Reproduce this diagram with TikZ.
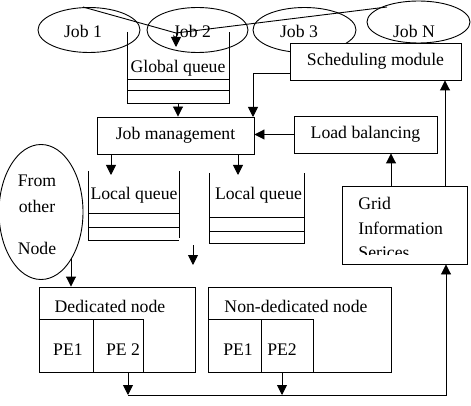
\documentclass[tikz,border=0pt]{standalone}
\usepackage{fontspec}
\setmainfont{Liberation Serif}
\usetikzlibrary{arrows.meta,shapes.geometric}
\begin{document}
\begin{tikzpicture}[x=1pt,y=-1pt,line width=0.9pt,
  every node/.style={font=\fontsize{17.7}{20}\selectfont,inner sep=0pt},
  box/.style={draw,fill=white,rectangle},
  oval/.style={draw,ellipse},
  arr/.style={-{Triangle[length=10pt,width=10pt]}}]
\useasboundingbox (0,0) rectangle (471,406);
% job ellipses
\node[oval,minimum width=102pt,minimum height=45pt] (job1) at (89,30) {};
\node[oval,minimum width=101pt,minimum height=45pt] (job2) at (197.5,30) {};
\node[oval,minimum width=103pt,minimum height=45pt] (job3) at (304.5,30) {};
\node[oval,minimum width=103pt,minimum height=42pt] (jobN) at (418.5,22) {};
\node (tj1) at (83,31) {Job 1};
\node (tj2) at (192,31) {Job 2};
\node (tj3) at (299,31) {Job 3};
\node (tjN) at (414,31) {Job N};
% crossing line
\coordinate (c0) at (83,7);
\coordinate (cx) at (176,33);
\coordinate (c2) at (387,7);
\draw (c0) -- (cx) -- (c2);
% global queue
\coordinate (gqtl) at (127,32);
\coordinate (gqtr) at (229,32);
\coordinate (gqbl) at (127,103);
\coordinate (gqbr) at (229,103);
\draw (gqtl) -- (gqbl) -- (gqbr) -- (gqtr);
\draw (127,79) -- (229,79);
\draw (127,90) -- (229,90);
\node (tgq) at (178,68) {Global queue};
\coordinate (gqin) at (176,47);
\draw[arr] (cx) -- (gqin);
% scheduling module
\node[box,minimum width=171pt,minimum height=37pt] (sched) at (375.5,61.5) {Scheduling module};
% job management
\node[box,minimum width=157pt,minimum height=37pt] (jm) at (175.5,135.5) {Job management};
\coordinate (gqout) at (178,103);
\draw[arr] (gqout) -- (gqout |- jm.north);
\coordinate (s1) at (290,73);
\coordinate (s2) at (253,117);
\draw[arr] (s1) -| (s2);
% load balancing
\node[box,minimum width=143pt,minimum height=37pt] (lb) at (365.5,134.5) {Load balancing};
\draw[arr] (lb.west) -- (lb.west -| jm.east);
% grid information
\node[box,minimum width=125pt,minimum height=78pt] (gis) at (404.5,225) {};
\begin{scope}
\clip (342,186) rectangle (467,254.5);
\node[anchor=base west] (g1) at (358,210) {Grid};
\node[anchor=base west] (g2) at (358,234) {Information};
\node[anchor=base west] (g3) at (358,258.5) {Serices};
\end{scope}
\coordinate (gl) at (391,186);
\draw[arr] (gl) -- (gl |- lb.south);
\coordinate (gs) at (445,186);
\draw[arr] (gs) -- (gs |- sched.south);
% local queues
\draw (88,171) -- (88,240) -- (179,240);
\draw (179,171) -- (179,238);
\draw (88,213) -- (179,213);
\draw (88,227) -- (179,227);
\node (tlq1) at (134,195) {Local queue};
\draw (209,173) -- (209,243) -- (304,243) -- (304,173);
\draw (209,217) -- (304,217);
\draw (209,231) -- (304,231);
\node (tlq2) at (258.5,195) {Local queue};
\coordinate (lq1in) at (111,175);
\coordinate (lq2in) at (238,175);
\draw[arr] (lq1in |- jm.south) -- (lq1in);
\draw[arr] (lq2in |- jm.south) -- (lq2in);
% stray arrow
\coordinate (sa1) at (193,245);
\coordinate (sa2) at (193,265);
\draw[arr] (sa1) -- (sa2);
% from other node
\node[oval,minimum width=84pt,minimum height=135pt] (fon) at (41,212) {};
\node[anchor=base] (f1) at (37,187) {From};
\node[anchor=base] (f2) at (37,212) {other};
\node[anchor=base] (f3) at (37,254) {Node};
% dedicated node
\node[box,minimum width=156pt,minimum height=85pt] (ded) at (117,329.5) {};
\node (tded) at (110,306) {Dedicated node};
\node[box,minimum width=54pt,minimum height=53pt] (dpe1) at (66,345.5) {};
\node[box,minimum width=50pt,minimum height=53pt] (dpe2) at (118,345.5) {};
\node (tdpe1) at (68,349.5) {PE1};
\node (tdpe2) at (123,349.5) {PE 2};
\coordinate (fo) at (71,259);
\draw[arr] (fo) -- (fo |- ded.north);
% non-dedicated node
\node[box,minimum width=183pt,minimum height=85pt] (ndn) at (299.5,329.5) {};
\node (tndn) at (296,306) {Non-dedicated node};
\node[box,minimum width=53pt,minimum height=53pt] (npe1) at (234.5,345.5) {};
\node[box,minimum width=52pt,minimum height=53pt] (npe2) at (287,345.5) {};
\node (tnpe1) at (238,349.5) {PE1};
\node (tnpe2) at (282,349.5) {PE2};
% bottom bus
\coordinate (b1) at (128,395);
\coordinate (b2) at (282,395);
\coordinate (b3) at (446,395);
\draw[arr] (b1 |- dpe2.south) -- (b1);
\draw[arr] (b2 |- npe2.south) -- (b2);
\draw[arr] (b1) -- (b3) -- (b3 |- gis.south);
\end{tikzpicture}
\end{document}
